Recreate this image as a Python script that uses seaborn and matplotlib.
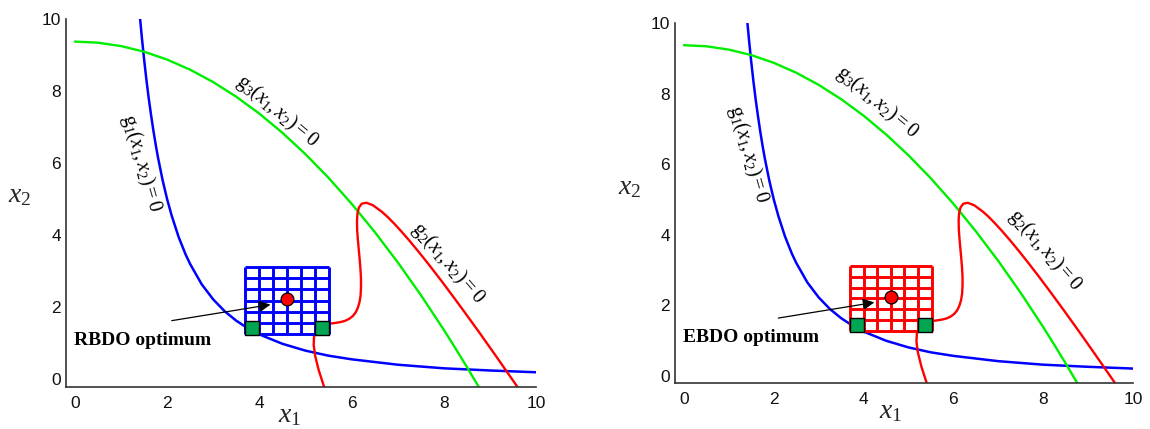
import numpy as np
import matplotlib
matplotlib.use('Agg')
import matplotlib.pyplot as plt
import seaborn as sns

# limit-state curves
g1_x1 = [1.41, 1.45, 1.5, 1.55, 1.6, 1.65, 1.7, 1.75, 1.8, 1.9, 2.0, 2.1, 2.25, 2.4, 2.5, 2.75,
         3.0, 3.25, 3.5, 3.75, 4.0, 4.5, 5.0, 5.5, 6.0, 7.0, 8.0, 9.0, 10.0]
g1_x2 = [10.06, 9.51, 8.89, 8.32, 7.81, 7.35, 6.92, 6.53, 6.17, 5.54, 5.0, 4.54, 3.95, 3.47, 3.2, 2.64,
         2.22, 1.89, 1.63, 1.42, 1.25, 0.99, 0.8, 0.66, 0.56, 0.41, 0.31, 0.25, 0.2]

g3_x1 = [0, 0.5, 1, 1.5, 2, 2.5, 3, 3.5, 4, 4.5, 5, 5.5, 6, 6.5, 7, 7.5, 8, 8.25, 8.5, 8.75]
g3_x2 = [9.375, 9.344, 9.25, 9.094, 8.875, 8.594, 8.25, 7.844, 7.375, 6.844, 6.25, 5.594,
         4.875, 4.094, 3.25, 2.344, 1.375, 0.867, 0.344, -0.195]

g2_x1 = [5.42, 5.286, 5.208, 5.177, 5.185, 5.225, 5.289, 5.371, 5.464, 5.564, 5.666, 5.766,
         5.86, 5.946, 6.022, 6.085, 6.134, 6.171, 6.194, 6.203, 6.203, 6.192, 6.175, 6.155,
         6.135, 6.12, 6.116, 6.126, 6.159, 6.221, 6.32, 6.463, 6.658, 6.78, 6.918, 7.073,
         7.249, 7.444, 7.663, 7.905, 8.172, 8.465, 8.787, 9.138, 9.519, 9.681]
g2_x2 = [-0.27, 0.259, 0.663, 0.965, 1.185, 1.336, 1.436, 1.497, 1.534, 1.555, 1.573, 1.595,
         1.629, 1.682, 1.756, 1.857, 1.988, 2.147, 2.334, 2.549, 2.789, 3.047, 3.321, 3.601,
         3.88, 4.148, 4.395, 4.609, 4.774, 4.878, 4.903, 4.834, 4.65, 4.509, 4.331, 4.115,
         3.857, 3.556, 3.206, 2.806, 2.351, 1.84, 1.27, 0.634, -0.066, -0.366]

# sampling grid around the optimum
grid_x = [3.69, 4.0, 4.3, 4.6, 4.91, 5.21, 5.52]
grid_y = [1.27, 1.58, 1.88, 2.19, 2.5, 2.81, 3.12]
opt_x1 = [4.6]
opt_x2 = [2.23]
corner_x1 = [3.85, 5.36]
corner_x2 = [1.43, 1.43]

panel_names = ['RBDO optimum', 'EBDO optimum']
ticks = [0, 2, 4, 6, 8, 10]

sns.set_theme(style='white')
plt.rcParams['font.family'] = ['Liberation Sans', 'DejaVu Sans']
plt.rcParams['mathtext.fontset'] = 'custom'
plt.rcParams['mathtext.rm'] = 'Liberation Serif'
plt.rcParams['mathtext.it'] = 'Liberation Serif:italic'
plt.rcParams['mathtext.bf'] = 'Liberation Serif:bold'

fig = plt.figure(figsize=(11.5, 4.29), dpi=100)
ax_l = fig.add_axes([0.0571, 0.0986, 0.4091, 0.857])
ax_r = fig.add_axes([0.5869, 0.108, 0.3984, 0.838])

# per-panel layout: box colour, label spots (x, y, rotation)
layout = [
    dict(ax=ax_l, box='#0000ff', name=panel_names[0],
         g1=(1.45, 6.0, -74), g2=(8.1, 3.24, -49), g3=(4.38, 7.45, -40),
         xl=(0.477, -0.077), yl=(-0.097, 0.52)),
    dict(ax=ax_r, box='#ff0000', name=panel_names[1],
         g1=(1.43, 6.28, -74), g2=(8.04, 3.55, -49), g3=(4.31, 7.77, -40),
         xl=(0.47, -0.08), yl=(-0.099, 0.545)),
]

for p in layout:
    ax = p['ax']
    sns.lineplot(x=g1_x1, y=g1_x2, sort=False, estimator=None, color='#0000ff', lw=1.8, ax=ax, zorder=2)
    sns.lineplot(x=g3_x1, y=g3_x2, sort=False, estimator=None, color='#00ee00', lw=1.7, ax=ax, zorder=2)
    sns.lineplot(x=g2_x1, y=g2_x2, sort=False, estimator=None, color='#ff0000', lw=1.7, ax=ax, zorder=2)

    # white box with grid lines
    ax.fill_between([min(grid_x), max(grid_x)], min(grid_y), max(grid_y), color='white', zorder=3)
    ax.vlines(grid_x, min(grid_y), max(grid_y), color=p['box'], lw=2.1, zorder=4)
    ax.hlines(grid_y, min(grid_x), max(grid_x), color=p['box'], lw=2.1, zorder=4)

    sns.scatterplot(x=corner_x1, y=corner_x2, marker='s', s=95, color='#00a651',
                    edgecolor='black', linewidth=1.0, ax=ax, zorder=5)
    sns.scatterplot(x=opt_x1, y=opt_x2, marker='o', s=85, color='#ff0000',
                    edgecolor='black', linewidth=0.9, ax=ax, zorder=6)

    ax.annotate('', xy=(4.3, 2.09), xytext=(2.04, 1.62),
                arrowprops=dict(arrowstyle='-|>', color='black', lw=0.9, mutation_scale=17),
                zorder=7)
    ax.text(-0.02, 1.08, p['name'], family='Liberation Serif', fontweight='bold',
            fontsize=14, ha='left', va='center', color='black')

    for key, txt in [('g1', r'$\mathrm{g}_1(x_1,x_2)=0$'),
                     ('g2', r'$\mathrm{g}_2(x_1,x_2)=0$'),
                     ('g3', r'$\mathrm{g}_3(x_1,x_2)=0$')]:
        x, y, rot = p[key]
        ax.text(x, y, txt, rotation=rot, rotation_mode='anchor', fontsize=14.5,
                ha='center', va='center', color='black')

    ax.set_xlim(-0.2, 10)
    ax.set_ylim(-0.2, 10)
    ax.set_xticks(ticks)
    ax.set_yticks(ticks)
    ax.tick_params(direction='in', length=4, width=1, labelsize=12.5, colors='#111111')
    ax.tick_params(axis='x', pad=7)
    for side in ['top', 'right']:
        ax.spines[side].set_visible(False)
    for side in ['left', 'bottom']:
        ax.spines[side].set_color('#333333')
        ax.spines[side].set_linewidth(1.2)

    ax.set_xlabel(r'$x_1$', fontsize=20)
    ax.set_ylabel(r'$x_2$', fontsize=20, rotation=0)
    ax.xaxis.set_label_coords(*p['xl'])
    ax.yaxis.set_label_coords(*p['yl'])
    ax.xaxis.label.set_va('center')
    ax.yaxis.label.set_va('center')
    ax.yaxis.label.set_ha('center')

fig.savefig('out.png', dpi=100)
